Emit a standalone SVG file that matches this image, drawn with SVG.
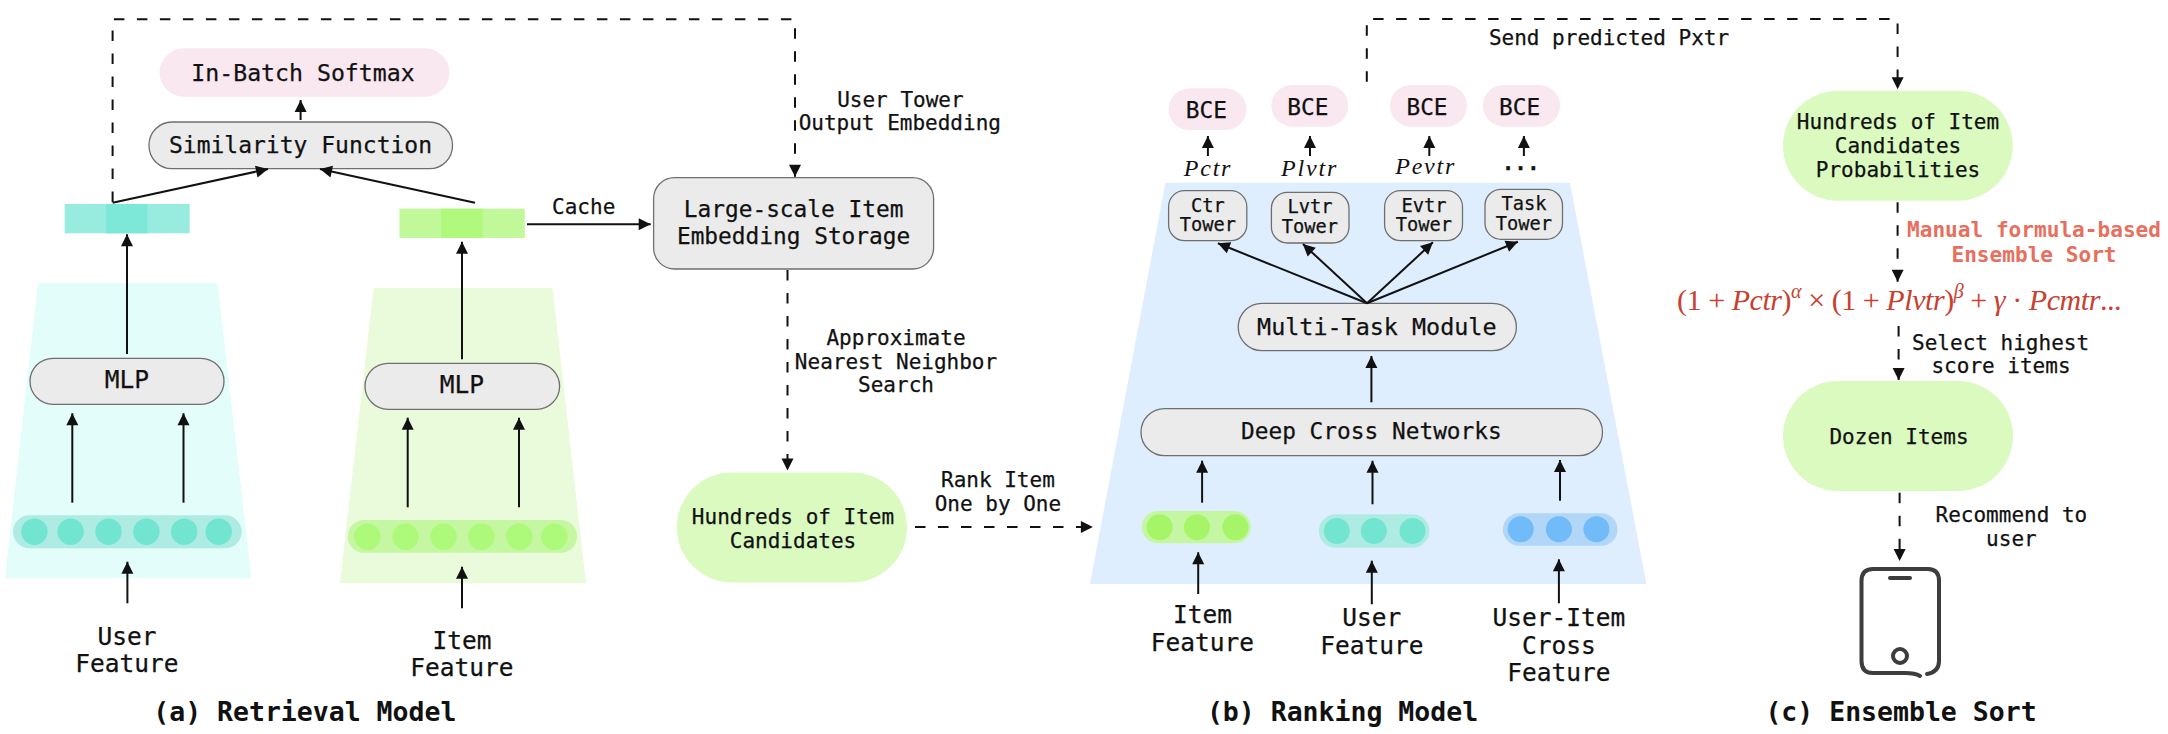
<svg xmlns="http://www.w3.org/2000/svg" width="2168" height="734" viewBox="0 0 2168 734">
<style>
text{font-family:"DejaVu Sans Mono","Liberation Mono",monospace;fill:#111;text-anchor:middle;stroke:#111;stroke-width:.25}
.s21{font-size:21px}.s23{font-size:22.8px}.s245{font-size:24.5px}.s19{font-size:18.7px}
.t{font-size:26.5px;font-weight:bold;stroke:none}
.r{font-size:21.1px;font-weight:bold;fill:#e76f5e;stroke:none}
.m{font-family:"Liberation Serif",serif;font-style:italic;font-size:24px;letter-spacing:1.8px;stroke:none}
.f{font-family:"Liberation Serif",serif;font-size:30px;fill:#c8402f;text-anchor:start;stroke:none}
.box{fill:#ebebeb;stroke:#6f6f6f;stroke-width:1.3}
.pink{fill:#f9e8f0}.lime{fill:#dafac0}
.c1{fill:#72e5d1}.b1{fill:#aeece3}.c2{fill:#adf97a}.b2{fill:#c5f6a2}.c3{fill:#72bbf9}.b3{fill:#b1d6f8}
.a{fill:none;stroke:#111;stroke-width:2;marker-end:url(#ah)}
.d{fill:none;stroke:#111;stroke-width:2;stroke-dasharray:10.5 12.5;marker-end:url(#ah)}
</style>
<defs><marker id="ah" markerUnits="userSpaceOnUse" markerWidth="14" markerHeight="14" viewBox="0 0 14 14" refX="13" refY="7" orient="auto"><path d="M1 1L13 7L1 13Z" fill="#111"/></marker></defs>
<g id="panels">
<polygon points="38,283.3 217.6,283.3 251.4,578.3 5,578.3" fill="#e3fdfa"/>
<polygon points="373.6,288 552.5,288 586,583.3 340,583.3" fill="#e9fbda"/>
<polygon points="1165.4,182.7 1570,182.7 1646.4,584 1090,584" fill="#deeefe"/>
</g>
<g id="softmax"><rect class="pink" x="159.5" y="48.3" width="290" height="48.4" rx="24.2"/><text x="303" y="81" style="font-size:23.2px">In-Batch Softmax</text></g>
<g id="similarity"><rect class="box" x="149" y="122" width="303.5" height="46.7" rx="23"/><text x="300.5" y="153" style="font-size:23px">Similarity Function</text></g>
<g id="user-embedding"><rect x="64.7" y="204" width="125" height="29.3" fill="#97ebdf"/><rect x="106" y="204" width="41.5" height="29.3" fill="#7de8d8"/></g>
<g id="item-embedding"><rect x="399.5" y="208.7" width="125.3" height="29.3" fill="#c1f99a"/><rect x="441" y="208.7" width="41.5" height="29.3" fill="#b0f97c"/></g>
<g id="mlp-user"><rect class="box" x="30" y="358.3" width="194" height="46" rx="23"/><text class="s245" x="127" y="388">MLP</text></g>
<g id="mlp-item"><rect class="box" x="365" y="363.3" width="194.6" height="46" rx="23"/><text class="s245" x="462" y="393">MLP</text></g>
<g id="user-features"><rect class="b1" x="13" y="515.3" width="228.7" height="33" rx="16.5"/>
<circle class="c1" cx="34.4" cy="531.7" r="13.2"/><circle class="c1" cx="70.6" cy="531.7" r="13.2"/><circle class="c1" cx="108.5" cy="531.7" r="13.2"/><circle class="c1" cx="146.4" cy="531.7" r="13.2"/><circle class="c1" cx="184.2" cy="531.7" r="13.2"/><circle class="c1" cx="218.7" cy="531.7" r="13.2"/></g>
<g id="item-features"><rect class="b2" x="347.8" y="520" width="229.2" height="32.7" rx="16.3"/>
<circle class="c2" cx="367.4" cy="536.7" r="13.2"/><circle class="c2" cx="405.6" cy="536.7" r="13.2"/><circle class="c2" cx="443.5" cy="536.7" r="13.2"/><circle class="c2" cx="481.4" cy="536.7" r="13.2"/><circle class="c2" cx="519.3" cy="536.7" r="13.2"/><circle class="c2" cx="554.3" cy="536.7" r="13.2"/></g>
<g id="label-user-a"><text class="s245" x="127" y="645">User</text><text class="s245" x="127" y="671.7">Feature</text></g>
<g id="label-item-a"><text class="s245" x="462" y="649.3">Item</text><text class="s245" x="462" y="676">Feature</text></g>
<g id="storage"><rect class="box" x="653.6" y="177.6" width="280" height="91.4" rx="21"/><text class="s23" x="793.6" y="217">Large-scale Item</text><text class="s23" x="793.6" y="244">Embedding Storage</text></g>
<g id="candidates"><rect class="lime" x="676.8" y="472.4" width="230.2" height="110" rx="55"/><text class="s21" x="793" y="523.5">Hundreds of Item</text><text class="s21" x="793" y="548.3">Candidates</text></g>
<g id="bce1"><rect class="pink" x="1168.6" y="88.3" width="77.8" height="41.7" rx="20.8"/><text class="s23" x="1206.4" y="118.3">BCE</text></g>
<g id="bce2"><rect class="pink" x="1271.4" y="85" width="76.8" height="41.7" rx="20.8"/><text class="s23" x="1307.9" y="115">BCE</text></g>
<g id="bce3"><rect class="pink" x="1390" y="85" width="77" height="41.7" rx="20.8"/><text class="s23" x="1427" y="115">BCE</text></g>
<g id="bce4"><rect class="pink" x="1482.9" y="85" width="77.1" height="41.7" rx="20.8"/><text class="s23" x="1519.6" y="115">BCE</text></g>
<g id="outputs"><text class="m" x="1208" y="175.7">Pctr</text><text class="m" x="1309.6" y="175.7">Plvtr</text><text class="m" x="1425.7" y="174.3">Pevtr</text><text class="s21" x="1520.7" y="176" font-weight="bold">···</text></g>
<g id="ctr"><rect class="box" x="1168.6" y="190.7" width="78.2" height="50" rx="16"/><text class="s19" x="1207.9" y="211.7">Ctr</text><text class="s19" x="1207.9" y="231">Tower</text></g>
<g id="lvtr"><rect class="box" x="1271.4" y="192.3" width="77.6" height="50.7" rx="16"/><text class="s19" x="1310" y="212.7">Lvtr</text><text class="s19" x="1310" y="233.3">Tower</text></g>
<g id="evtr"><rect class="box" x="1384.6" y="190.7" width="77.9" height="50" rx="16"/><text class="s19" x="1424" y="211.7">Evtr</text><text class="s19" x="1424" y="231">Tower</text></g>
<g id="task"><rect class="box" x="1485" y="189.3" width="77.5" height="50" rx="16"/><text class="s19" x="1524" y="210">Task</text><text class="s19" x="1524" y="230">Tower</text></g>
<g id="multitask"><rect class="box" x="1238.2" y="303.3" width="278.2" height="47.4" rx="23.7"/><text x="1376.8" y="335" style="font-size:23.4px">Multi-Task Module</text></g>
<g id="dcn"><rect class="box" x="1141" y="408.7" width="461.5" height="47" rx="23.5"/><text class="s23" x="1371.4" y="439.3">Deep Cross Networks</text></g>
<g id="rank-item"><rect class="b2" x="1141.8" y="511" width="108.9" height="32.3" rx="16.1"/><circle cx="1159.6" cy="527.3" r="13" fill="#a6f569"/><circle cx="1197" cy="527.3" r="13" fill="#a6f569"/><circle cx="1235.4" cy="527.3" r="13" fill="#a6f569"/></g>
<g id="rank-user"><rect class="b1" x="1318.9" y="514.3" width="110.4" height="33.4" rx="16.7"/><circle class="c1" cx="1336.8" cy="531" r="13"/><circle class="c1" cx="1373.9" cy="531" r="13"/><circle class="c1" cx="1412.5" cy="531" r="13"/></g>
<g id="rank-cross"><rect class="b3" x="1502.9" y="513.3" width="114.6" height="32.4" rx="16.2"/><circle class="c3" cx="1520.7" cy="529.3" r="13"/><circle class="c3" cx="1558.9" cy="529.3" r="13"/><circle class="c3" cx="1596.4" cy="529.3" r="13"/></g>
<g id="label-item-b"><text class="s245" x="1202.5" y="622.7">Item</text><text class="s245" x="1202.5" y="650.7">Feature</text></g>
<g id="label-user-b"><text class="s245" x="1371.8" y="626">User</text><text class="s245" x="1371.8" y="654">Feature</text></g>
<g id="label-cross"><text class="s245" x="1558.9" y="626">User-Item</text><text class="s245" x="1558.9" y="654">Cross</text><text class="s245" x="1558.9" y="680.7">Feature</text></g>
<g id="probabilities"><rect class="lime" x="1783" y="90.7" width="229.7" height="110" rx="55"/><text class="s21" x="1898" y="129.3">Hundreds of Item</text><text class="s21" x="1898" y="153.3">Candidates</text><text class="s21" x="1898" y="177.3">Probabilities</text></g>
<g id="formula"><text class="r" x="2034" y="237.3">Manual formula-based</text><text class="r" x="2034" y="262.3">Ensemble Sort</text>
<text class="f" x="1677" y="310" textLength="444.5">(1 + <tspan font-style="italic">Pctr</tspan>)<tspan font-style="italic" font-size="20" dy="-12">α</tspan><tspan dy="12"> × (1 + </tspan><tspan font-style="italic">Plvtr</tspan>)<tspan font-style="italic" font-size="20" dy="-12">β</tspan><tspan dy="12"> + </tspan><tspan font-style="italic">γ</tspan> · <tspan font-style="italic">Pcmtr</tspan>...</text></g>
<g id="dozen"><rect class="lime" x="1783" y="381" width="230" height="110" rx="55"/><text class="s21" x="1899" y="444">Dozen Items</text></g>
<g id="phone" fill="none" stroke="#3d3d3d" stroke-width="4" stroke-linecap="round"><path d="M1920 676Q1915 673 1905 673H1873Q1861.5 673 1861.5 661V581Q1861.5 569 1873 569H1928Q1939 569 1939 581V661Q1939 672 1927 674"/><path d="M1890 578H1910"/><circle cx="1900" cy="656" r="7"/></g>
<g id="edge-labels">
<text class="s21" x="900.4" y="106.5">User Tower</text><text class="s21" x="899.8" y="129.5">Output Embedding</text>
<text class="s21" x="583.7" y="213.8">Cache</text>
<text class="s21" x="896" y="344.8">Approximate</text><text class="s21" x="896" y="368.8">Nearest Neighbor</text><text class="s21" x="896" y="392.2">Search</text>
<text class="s21" x="997.9" y="486.5">Rank Item</text><text class="s21" x="997.9" y="511.3">One by One</text>
<text class="s21" x="1609" y="45">Send predicted Pxtr</text>
<text class="s21" x="2000.6" y="350">Select highest</text><text class="s21" x="2001" y="373.3">score items</text>
<text class="s21" x="2011.4" y="521.7">Recommend to</text><text class="s21" x="2011.4" y="545.7">user</text>
</g>
<g id="titles"><text class="t" x="304.8" y="720.7">(a) Retrieval Model</text><text class="t" x="1342.5" y="720.7">(b) Ranking Model</text><text class="t" x="1901" y="720.7">(c) Ensemble Sort</text></g>
<g id="connectors">
<path class="a" d="M300.6 120V100"/>
<path class="a" d="M112.6 202.7L268 169"/><path class="a" d="M475 202.7L320 169"/>
<path class="a" d="M127 354V234.3"/><path class="a" d="M462 359.3V241.7"/>
<path class="a" d="M72.3 502.7V413.3"/><path class="a" d="M183.5 502.7V413.3"/><path class="a" d="M407.7 507.3V417.7"/><path class="a" d="M519 507.3V417.7"/>
<path class="a" d="M127.4 603.3V561.7"/><path class="a" d="M462 608.3V566.7"/>
<path class="a" d="M527 224.2H650.7"/>
<path class="d" d="M112.6 202V19.3H795V176.8"/>
<path class="d" d="M787.5 270V470.6"/>
<path class="d" d="M915 527H1092.9"/>
<path class="d" d="M1366.8 81.7V19H1897.6V89.3"/>
<path class="d" d="M1897.6 202.3V281.7"/>
<path class="d" d="M1898.6 326V380"/>
<path class="d" d="M1899.6 492.7V561"/>
<path class="a" d="M1207.9 156V136"/><path class="a" d="M1310 156V136"/><path class="a" d="M1429.3 156V136"/><path class="a" d="M1523.9 156V136"/>
<path class="a" d="M1367 303.3L1217.9 243.3"/><path class="a" d="M1367 303.3L1302.9 244"/><path class="a" d="M1367 303.3L1432.9 242.3"/><path class="a" d="M1367 303.3L1517.9 241.7"/>
<path class="a" d="M1371.4 402.3V356"/>
<path class="a" d="M1202.1 502.7V460.7"/><path class="a" d="M1372.5 504.3V460.7"/><path class="a" d="M1560 500.7V460"/>
<path class="a" d="M1198.2 594V552.3"/><path class="a" d="M1371.8 604.3V560.7"/><path class="a" d="M1558.9 603.3V559.3"/>
</g>
</svg>
